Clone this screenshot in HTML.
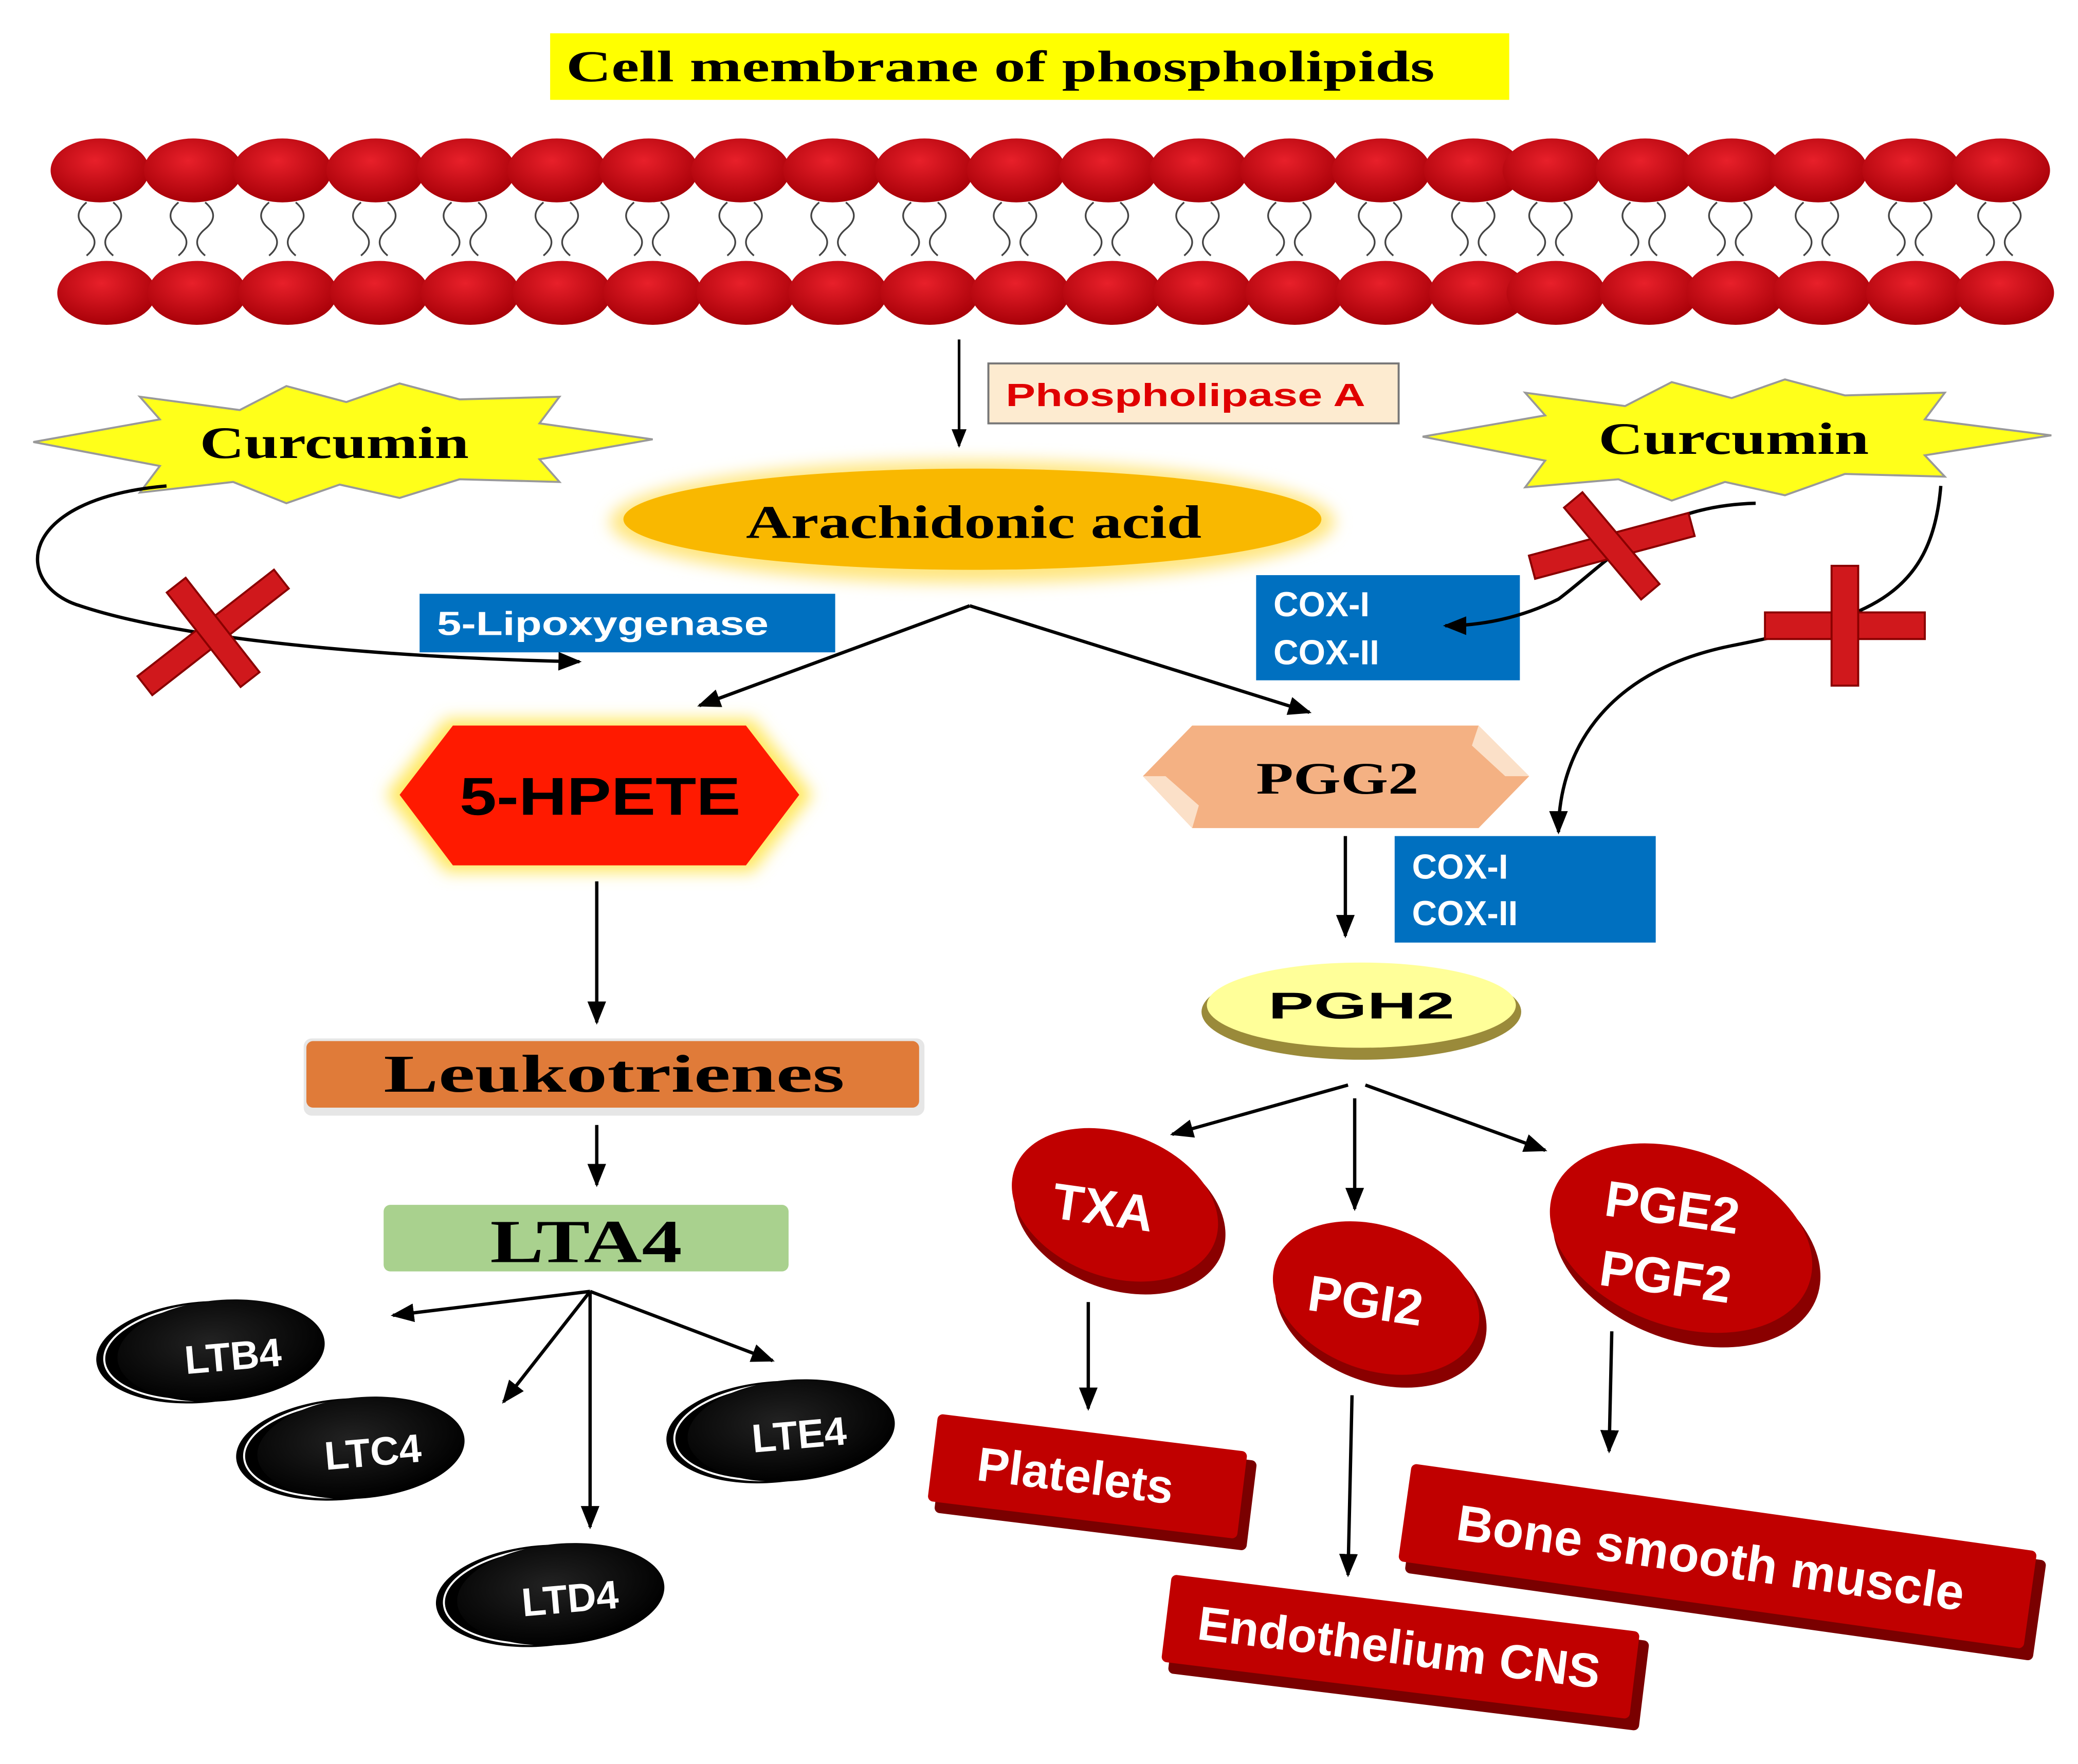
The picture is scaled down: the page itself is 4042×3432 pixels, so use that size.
<!DOCTYPE html>
<html><head><meta charset="utf-8"><style>
html,body{margin:0;padding:0;background:#fff;}
svg{display:block;}
.serif{font-family:"Liberation Serif",serif;font-weight:bold;}
.sans{font-family:"Liberation Sans",sans-serif;font-weight:bold;}
</style></head><body>
<svg width="4042" height="3432" viewBox="0 0 1560 1325" preserveAspectRatio="none" xmlns="http://www.w3.org/2000/svg">
<defs>
<marker id="ah" viewBox="0 0 10 10" refX="9" refY="5" markerWidth="7" markerHeight="7" orient="auto"><path d="M0,1 L10,5 L0,9 z" fill="#000"/></marker>
<radialGradient id="rb" cx="45%" cy="35%" r="65%"><stop offset="0" stop-color="#e8202a"/><stop offset="1" stop-color="#a80008"/></radialGradient>
<radialGradient id="blk" cx="45%" cy="40%" r="60%"><stop offset="0" stop-color="#222"/><stop offset="1" stop-color="#000"/></radialGradient>
<filter id="glow" x="-20%" y="-40%" width="140%" height="180%"><feGaussianBlur stdDeviation="6"/></filter>
<g id="head"><ellipse rx="37" ry="24" fill="url(#rb)"/></g>
</defs>

<!-- Title -->
<rect x="413" y="25" width="720" height="50" fill="#ffff00"/>
<text x="425" y="61" class="serif" font-size="33" textLength="652" lengthAdjust="spacingAndGlyphs">Cell membrane of phospholipids</text>

<!-- Membrane -->
<g>
<use href="#head" x="75" y="128"/><use href="#head" x="145" y="128"/><use href="#head" x="212" y="128"/><use href="#head" x="282" y="128"/><use href="#head" x="350" y="128"/><use href="#head" x="418" y="128"/><use href="#head" x="487" y="128"/><use href="#head" x="556" y="128"/><use href="#head" x="625" y="128"/><use href="#head" x="694" y="128"/><use href="#head" x="763" y="128"/><use href="#head" x="832" y="128"/><use href="#head" x="900" y="128"/><use href="#head" x="968" y="128"/><use href="#head" x="1037" y="128"/><use href="#head" x="1106" y="128"/><use href="#head" x="1165" y="128"/><use href="#head" x="1235" y="128"/><use href="#head" x="1300" y="128"/><use href="#head" x="1365" y="128"/><use href="#head" x="1435" y="128"/><use href="#head" x="1502" y="128"/>
<use href="#head" x="80" y="220"/><use href="#head" x="148" y="220"/><use href="#head" x="216" y="220"/><use href="#head" x="285" y="220"/><use href="#head" x="353" y="220"/><use href="#head" x="422" y="220"/><use href="#head" x="490" y="220"/><use href="#head" x="560" y="220"/><use href="#head" x="629" y="220"/><use href="#head" x="698" y="220"/><use href="#head" x="766" y="220"/><use href="#head" x="835" y="220"/><use href="#head" x="903" y="220"/><use href="#head" x="972" y="220"/><use href="#head" x="1040" y="220"/><use href="#head" x="1110" y="220"/><use href="#head" x="1168" y="220"/><use href="#head" x="1238" y="220"/><use href="#head" x="1303" y="220"/><use href="#head" x="1368" y="220"/><use href="#head" x="1438" y="220"/><use href="#head" x="1505" y="220"/>
<g fill="none" stroke="#444" stroke-width="1.3">
<path id="tl" d="M65,152 q-12,10 0,20 q12,10 0,20 M85,152 q12,10 0,20 q-12,10 0,20"/>
<use href="#tl" x="69"/><use href="#tl" x="137"/><use href="#tl" x="206"/><use href="#tl" x="274"/><use href="#tl" x="343"/><use href="#tl" x="411"/><use href="#tl" x="481"/><use href="#tl" x="550"/><use href="#tl" x="619"/><use href="#tl" x="687"/><use href="#tl" x="756"/><use href="#tl" x="824"/><use href="#tl" x="893"/><use href="#tl" x="961"/><use href="#tl" x="1031"/><use href="#tl" x="1089"/><use href="#tl" x="1159"/><use href="#tl" x="1224"/><use href="#tl" x="1289"/><use href="#tl" x="1359"/><use href="#tl" x="1426"/>
</g>
</g>

<!-- Phospholipase -->
<line x1="720" y1="255" x2="720" y2="335" stroke="#000" stroke-width="2" marker-end="url(#ah)"/>
<rect x="742" y="273" width="308" height="45" fill="#fdebd0" stroke="#777" stroke-width="1.5"/>
<text x="755" y="305" class="sans" font-size="24" fill="#e00000" textLength="270" lengthAdjust="spacingAndGlyphs">Phospholipase A</text>

<!-- Curcumin stars -->
<polygon points="25,332 120,315 105,298 180,308 215,290 260,302 300,288 345,300 420,298 405,318 490,330 405,345 420,362 345,360 300,374 255,364 215,378 175,362 105,370 120,350" fill="#ffff1a" stroke="#999" stroke-width="1.5"/>
<text x="150" y="344" class="serif" font-size="34" textLength="202" lengthAdjust="spacingAndGlyphs">Curcumin</text>
<polygon points="1068,328 1160,312 1145,295 1220,305 1255,287 1300,299 1340,285 1385,297 1460,295 1445,315 1540,327 1445,342 1460,358 1385,356 1340,372 1295,362 1255,376 1215,360 1145,366 1160,346" fill="#ffff1a" stroke="#999" stroke-width="1.5"/>
<text x="1200" y="341" class="serif" font-size="34" textLength="203" lengthAdjust="spacingAndGlyphs">Curcumin</text>

<!-- Arachidonic acid -->
<ellipse cx="730" cy="392" rx="272" ry="46" fill="#ffe680" filter="url(#glow)"/>
<ellipse cx="730" cy="390" rx="262" ry="38" fill="#f9b800"/>
<text x="560" y="404" class="serif" font-size="35" textLength="342" lengthAdjust="spacingAndGlyphs">Arachidonic acid</text>

<!-- 5-Lipoxygenase -->
<rect x="315" y="446" width="312" height="44" fill="#0070c0"/>
<text x="328" y="477" class="sans" font-size="25" fill="#fff" textLength="249" lengthAdjust="spacingAndGlyphs">5-Lipoxygenase</text>
<!-- COX boxes -->
<rect x="943" y="432" width="198" height="79" fill="#0070c0"/>
<text x="956" y="463" class="sans" font-size="26" fill="#fff">COX-I</text>
<text x="956" y="499" class="sans" font-size="26" fill="#fff">COX-II</text>
<rect x="1047" y="628" width="196" height="80" fill="#0070c0"/>
<text x="1060" y="660" class="sans" font-size="26" fill="#fff">COX-I</text>
<text x="1060" y="695" class="sans" font-size="26" fill="#fff">COX-II</text>

<!-- inhibition curves -->
<path d="M125,365 C10,375 10,440 60,455 C150,485 330,495 435,497" fill="none" stroke="#000" stroke-width="2.5" marker-end="url(#ah)"/>
<path d="M1318,378 C1240,380 1210,420 1170,450 C1140,465 1110,470 1085,470" fill="none" stroke="#000" stroke-width="2.5" marker-end="url(#ah)"/>
<path d="M1457,365 C1450,450 1400,465 1300,485 C1200,505 1170,570 1170,625" fill="none" stroke="#000" stroke-width="2.5" marker-end="url(#ah)"/>
<g fill="#d0181c" stroke="#8a0000" stroke-width="1.5">
<g transform="translate(160,475) rotate(-38)"><rect x="-65" y="-9" width="130" height="18"/><rect x="-9" y="-45" width="18" height="90"/></g>
<g transform="translate(1210,410) rotate(-15)"><rect x="-62" y="-9" width="124" height="18"/><rect x="-9" y="-45" width="18" height="90" transform="rotate(-25)"/></g>
<g transform="translate(1385,470)"><rect x="-60" y="-10" width="120" height="20"/><rect x="-10" y="-45" width="20" height="90"/></g>
</g>

<!-- branch arrows -->
<line x1="728" y1="455" x2="525" y2="530" stroke="#000" stroke-width="2.5" marker-end="url(#ah)"/>
<line x1="728" y1="455" x2="983" y2="535" stroke="#000" stroke-width="2.5" marker-end="url(#ah)"/>

<!-- 5-HPETE -->
<polygon points="335,540 565,540 610,597 565,655 335,655 290,597" fill="#ffe860" filter="url(#glow)"/>
<polygon points="340,545 560,545 600,597 560,650 340,650 300,597" fill="#ff1a00"/>
<text x="345" y="612" class="sans" font-size="40" textLength="211" lengthAdjust="spacingAndGlyphs">5-HPETE</text>

<!-- PGG2 -->
<polygon points="895,545 1110,545 1148,583 1110,622 895,622 858,583" fill="#f4b183"/>
<polygon points="858,583 895,622 900,605 875,583" fill="#fbe0c8"/>
<polygon points="1110,545 1148,583 1130,583 1105,560" fill="#fbe0c8"/>
<text x="943" y="596" class="serif" font-size="34" textLength="122" lengthAdjust="spacingAndGlyphs">PGG2</text>

<!-- left chain -->
<line x1="448" y1="662" x2="448" y2="768" stroke="#000" stroke-width="2.5" marker-end="url(#ah)"/>
<rect x="228" y="780" width="466" height="58" rx="6" fill="#e6e6e6"/>
<rect x="230" y="782" width="460" height="50" rx="5" fill="#e07b39"/>
<text x="288" y="820" class="serif" font-size="40" textLength="346" lengthAdjust="spacingAndGlyphs">Leukotrienes</text>
<line x1="448" y1="845" x2="448" y2="890" stroke="#000" stroke-width="2.5" marker-end="url(#ah)"/>
<rect x="288" y="905" width="304" height="50" rx="5" fill="#a9d18e"/>
<text x="368" y="948" class="serif" font-size="46" textLength="144" lengthAdjust="spacingAndGlyphs">LTA4</text>
<g stroke="#000" stroke-width="2.5" marker-end="url(#ah)">
<line x1="443" y1="970" x2="295" y2="988"/>
<line x1="443" y1="970" x2="378" y2="1053"/>
<line x1="443" y1="970" x2="443" y2="1147"/>
<line x1="443" y1="970" x2="580" y2="1022"/>
</g>
<g>
<g transform="translate(160,1015) rotate(-5)"><ellipse cx="-8" rx="80" ry="38" fill="#000"/><ellipse cx="-4" rx="78" ry="36" fill="none" stroke="#fff" stroke-width="1.5"/><ellipse cx="6" rx="78" ry="38" fill="url(#blk)"/></g>
<text x="175" y="1029" text-anchor="middle" class="sans" font-size="30" fill="#fff" transform="rotate(-5 175 1020)">LTB4</text>
<g transform="translate(265,1088) rotate(-5)"><ellipse cx="-8" rx="80" ry="38" fill="#000"/><ellipse cx="-4" rx="78" ry="36" fill="none" stroke="#fff" stroke-width="1.5"/><ellipse cx="6" rx="78" ry="38" fill="url(#blk)"/></g>
<text x="280" y="1101" text-anchor="middle" class="sans" font-size="30" fill="#fff" transform="rotate(-5 280 1092)">LTC4</text>
<g transform="translate(415,1198) rotate(-5)"><ellipse cx="-8" rx="80" ry="38" fill="#000"/><ellipse cx="-4" rx="78" ry="36" fill="none" stroke="#fff" stroke-width="1.5"/><ellipse cx="6" rx="78" ry="38" fill="url(#blk)"/></g>
<text x="428" y="1211" text-anchor="middle" class="sans" font-size="30" fill="#fff" transform="rotate(-5 428 1202)">LTD4</text>
<g transform="translate(588,1075) rotate(-5)"><ellipse cx="-8" rx="80" ry="38" fill="#000"/><ellipse cx="-4" rx="78" ry="36" fill="none" stroke="#fff" stroke-width="1.5"/><ellipse cx="6" rx="78" ry="38" fill="url(#blk)"/></g>
<text x="600" y="1088" text-anchor="middle" class="sans" font-size="30" fill="#fff" transform="rotate(-5 600 1079)">LTE4</text>
</g>

<!-- right chain -->
<line x1="1010" y1="628" x2="1010" y2="703" stroke="#000" stroke-width="2.5" marker-end="url(#ah)"/>
<ellipse cx="1022" cy="760" rx="120" ry="36" fill="#9a8a3a"/>
<ellipse cx="1022" cy="755" rx="116" ry="32" fill="#ffff99"/>
<text x="952" y="765" class="sans" font-size="28" textLength="140" lengthAdjust="spacingAndGlyphs">PGH2</text>
<g stroke="#000" stroke-width="2.5" marker-end="url(#ah)">
<line x1="1012" y1="815" x2="880" y2="852"/>
<line x1="1017" y1="825" x2="1017" y2="908"/>
<line x1="1025" y1="815" x2="1160" y2="864"/>
<line x1="817" y1="978" x2="817" y2="1058"/>
<line x1="1015" y1="1048" x2="1012" y2="1183"/>
<line x1="1210" y1="1000" x2="1208" y2="1090"/>
</g>
<g transform="translate(837,905) rotate(20)"><ellipse cx="6" cy="6" rx="82" ry="56" fill="#8a0000"/><ellipse rx="80" ry="54" fill="#c00000"/></g>
<text x="828" y="920" text-anchor="middle" class="sans" font-size="38" fill="#fff" font-weight="normal" transform="rotate(8 828 908)">TXA</text>
<g transform="translate(1033,975) rotate(20)"><ellipse cx="6" cy="6" rx="82" ry="56" fill="#8a0000"/><ellipse rx="80" ry="54" fill="#c00000"/></g>
<text x="1025" y="990" text-anchor="middle" class="sans" font-size="38" fill="#fff" font-weight="normal" transform="rotate(8 1025 978)">PGI2</text>
<g transform="translate(1262,930) rotate(20)"><ellipse cx="7" cy="7" rx="104" ry="68" fill="#8a0000"/><ellipse rx="102" ry="66" fill="#c00000"/></g>
<text x="1255" y="920" text-anchor="middle" class="sans" font-size="38" fill="#fff" font-weight="normal" transform="rotate(8 1255 910)">PGE2</text>
<text x="1250" y="972" text-anchor="middle" class="sans" font-size="38" fill="#fff" font-weight="normal" transform="rotate(8 1250 962)">PGF2</text>

<g transform="translate(817,1112) rotate(7)"><rect x="-112" y="-30" width="236" height="68" rx="4" fill="#7a0000"/><rect x="-118" y="-36" width="234" height="66" rx="4" fill="#c00000"/>
<text x="-10" y="10" text-anchor="middle" class="sans" font-size="36" fill="#fff" font-weight="normal">Platelets</text></g>
<g transform="translate(1052,1240) rotate(7)"><rect x="-172" y="-30" width="356" height="68" rx="4" fill="#7a0000"/><rect x="-178" y="-36" width="354" height="66" rx="4" fill="#c00000"/>
<text x="-2" y="10" text-anchor="middle" class="sans" font-size="36" fill="#fff" font-weight="normal">Endothelium CNS</text></g>
<g transform="translate(1290,1172) rotate(8)"><rect x="-232" y="-34" width="476" height="76" rx="4" fill="#7a0000"/><rect x="-238" y="-40" width="474" height="74" rx="4" fill="#c00000"/>
<text x="-6" y="12" text-anchor="middle" class="sans" font-size="38" fill="#fff" font-weight="normal">Bone smooth muscle</text></g>
</svg>
</body></html>
